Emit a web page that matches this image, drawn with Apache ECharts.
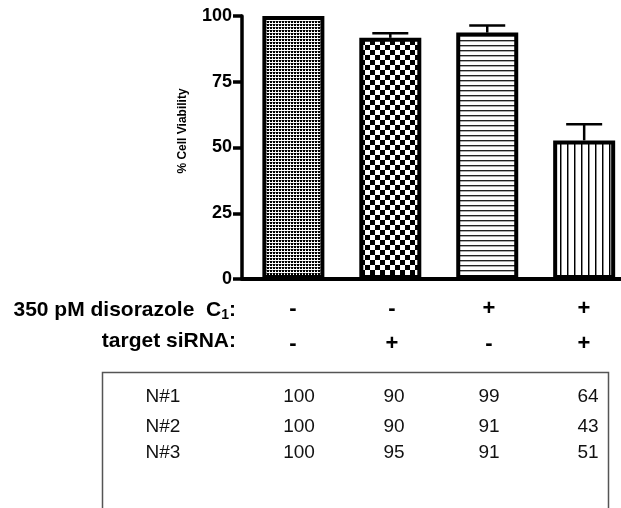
<!DOCTYPE html>
<html>
<head>
<meta charset="utf-8">
<script src="https://cdn.jsdelivr.net/npm/echarts@6/dist/echarts.min.js"></script>
<style>
html,body{margin:0;padding:0;background:#fff;}
#chart{width:621px;height:508px;}
</style>
</head>
<body>
<div id="chart"></div>
<script>
// ---- data ----
const categories = ['Control', 'target siRNA', '350 pM disorazole C1', '350 pM disorazole C1 + target siRNA'];
const meanViability = [100, 91.7, 93.7, 52.7];
const semViability = [0, 1.7, 2.7, 6.1];
const yTickInterval = 25;
const drugRow = ['-', '-', '+', '+'];
const sirnaRow = ['-', '+', '-', '+'];
const rowLabels = ['N#1', 'N#2', 'N#3'];
const replicate1 = [100, 90, 99, 64];
const replicate2 = [100, 90, 91, 43];
const replicate3 = [100, 95, 91, 51];

// ---- fill patterns ----
function makePattern(w, h, draw) {
  const c = document.createElement('canvas');
  c.width = w; c.height = h;
  const g = c.getContext('2d');
  g.fillStyle = '#fff'; g.fillRect(0, 0, w, h);
  g.fillStyle = '#000';
  draw(g);
  return c;
}
const patterns = [
  makePattern(3, 3, g => { g.fillRect(0, 0, 2, 2); g.fillStyle = '#999'; g.fillRect(2, 0, 1, 1); }),
  makePattern(10, 10, g => { g.fillRect(0, 0, 5, 5); g.fillRect(5, 5, 5, 5); }),
  makePattern(4, 5, g => { g.fillStyle = '#222'; g.fillRect(0, 0, 4, 1); g.fillStyle = '#aaa'; g.fillRect(0, 1, 4, 1); }),
  makePattern(7, 4, g => { g.fillRect(0, 0, 1, 4); g.fillStyle = '#888'; g.fillRect(1, 0, 1, 4); })
];

const FONT = 'Liberation Sans, Arial, sans-serif';
const chart = echarts.init(document.getElementById('chart'), null, {renderer: 'canvas'});

// layout constants
const signX = [293, 392, 489, 584];
const tableX = [299, 394, 489, 588];
const tableRowY = [397, 427, 453];

const graphics = [];
graphics.push({
  type: 'text', x: 183, y: 131, rotation: Math.PI / 2,
  style: {text: '% Cell Viability', font: 'bold 12px ' + FONT, fill: '#000', align: 'center', verticalAlign: 'middle'}
});
graphics.push({
  type: 'text', x: 236, y: 310,
  style: {
    text: '{b|350 pM disorazole  C}{s|1}{b|:}',
    align: 'right', verticalAlign: 'middle',
    rich: {
      b: {font: 'bold 21px ' + FONT, fill: '#000', height: 24},
      s: {font: 'bold 14px ' + FONT, fill: '#000', height: 24, padding: [10, 0, 0, 0]}
    }
  }
});
graphics.push({
  type: 'text', x: 236, y: 341,
  style: {text: 'target siRNA:', font: 'bold 21px ' + FONT, fill: '#000', align: 'right', verticalAlign: 'middle'}
});
drugRow.forEach((s, i) => graphics.push({
  type: 'text', x: signX[i], y: 309,
  style: {text: s, font: 'bold 22px ' + FONT, fill: '#000', align: 'center', verticalAlign: 'middle'}
}));
sirnaRow.forEach((s, i) => graphics.push({
  type: 'text', x: signX[i], y: 344,
  style: {text: s, font: 'bold 22px ' + FONT, fill: '#000', align: 'center', verticalAlign: 'middle'}
}));
graphics.push({
  type: 'rect', shape: {x: 102.5, y: 372.5, width: 506, height: 200},
  style: {fill: 'none', stroke: '#555', lineWidth: 1.5}
});
[replicate1, replicate2, replicate3].forEach((row, r) => {
  graphics.push({
    type: 'text', x: 163, y: tableRowY[r],
    style: {text: rowLabels[r], font: '19px ' + FONT, fill: '#111', align: 'center', verticalAlign: 'middle'}
  });
  row.forEach((v, i) => graphics.push({
    type: 'text', x: tableX[i], y: tableRowY[r],
    style: {text: String(v), font: '19px ' + FONT, fill: '#111', align: 'center', verticalAlign: 'middle'}
  }));
});

chart.setOption({
  animation: false,
  backgroundColor: '#fff',
  grid: {left: 242, right: 0, top: 16, bottom: 229, containLabel: false},
  xAxis: {
    type: 'value', min: -0.53, max: 3.38,
    axisLine: {show: true, onZero: false, lineStyle: {color: '#000', width: 4}},
    axisTick: {show: false}, axisLabel: {show: false}, splitLine: {show: false}
  },
  yAxis: {
    type: 'value', min: 0, max: 100, interval: yTickInterval,
    axisLine: {show: true, onZero: false, lineStyle: {color: '#000', width: 3.5}},
    axisTick: {show: true, length: 9, lineStyle: {color: '#000', width: 3.5}},
    axisLabel: {color: '#000', fontWeight: 'bold', fontSize: 18, fontFamily: FONT, margin: 10},
    splitLine: {show: false}
  },
  series: [
    {
      type: 'bar', name: 'Viability', barWidth: 62,
      data: meanViability.map((v, i) => ({
        value: [i, v], name: categories[i],
        itemStyle: {color: {image: patterns[i], repeat: 'repeat'}, borderColor: '#000', borderWidth: 4}
      }))
    },
    {
      type: 'custom', name: 'SEM', z: 3,
      data: meanViability.map((v, i) => [i, v, v + semViability[i]]),
      renderItem: function (params, api) {
        const x = api.value(0);
        if (api.value(2) <= api.value(1)) return null;
        const p0 = api.coord([x, api.value(1)]);
        const p1 = api.coord([x, api.value(2)]);
        return {
          type: 'group', children: [
            {type: 'line', shape: {x1: p0[0], y1: p0[1], x2: p1[0], y2: p1[1]}, style: {stroke: '#000', lineWidth: 2.5}},
            {type: 'line', shape: {x1: p1[0] - 18, y1: p1[1], x2: p1[0] + 18, y2: p1[1]}, style: {stroke: '#000', lineWidth: 2.5}}
          ]
        };
      }
    }
  ],
  graphic: graphics
});
</script>
</body>
</html>
